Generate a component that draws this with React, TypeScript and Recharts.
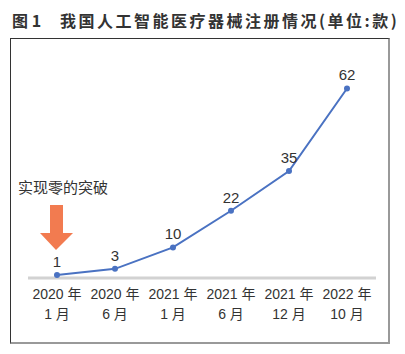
import { LineChart, Line, XAxis, YAxis, LabelList } from "recharts";

const periods = ["2020 年|1 月", "2020 年|6 月", "2021 年|1 月", "2021 年|6 月", "2021 年|12 月", "2022 年|10 月"];
const registrations = [1, 3, 10, 22, 35, 62];

const data = periods.map((p, i) => ({ period: p, count: registrations[i] }));

const FONT = "'Liberation Sans', 'Noto Sans CJK SC', sans-serif";
const CJK = "'Noto Sans CJK SC', sans-serif";
const LINE = "#4a72c2";
const TEXT = "#333";

const PeriodTick = ({ x, y, payload }: any) => {
  const [year, month] = String(payload.value).split("|");
  return (
    <text x={x} textAnchor="middle" fontSize={14} fill={TEXT} fontFamily={FONT}>
      <tspan x={x} y={y + 13}>{year}</tspan>
      <tspan x={x} y={y + 33}>{month}</tspan>
    </text>
  );
};

// value above each point; the first one also gets the orange arrow + note
const PointLabel = ({ x, y, value, index }: any) => (
  <g>
    {index === 0 && (
      <g>
        <text x={x - 39} y={y - 82} fontSize={15} fill={TEXT} fontFamily={CJK}>实现零的突破</text>
        <polygon
          points={`${x - 7},${y - 70} ${x + 6},${y - 70} ${x + 6},${y - 42} ${x + 16},${y - 42} ${x - 1},${y - 25} ${x - 17},${y - 42} ${x - 7},${y - 42}`}
          fill="#f27b50"
        />
      </g>
    )}
    <text x={x} y={y - 8} textAnchor="middle" fontSize={15} fill={TEXT} fontFamily={FONT}>{value}</text>
  </g>
);

export default function App() {
  return (
    <div style={{ position: "absolute", left: 0, top: 0, width: 405, height: 354, background: "#fff", fontFamily: CJK }}>
      <div style={{ position: "absolute", left: 12, top: 8, fontSize: 16, fontWeight: 700, color: TEXT, whiteSpace: "nowrap" }}>
        图 1
      </div>
      <div style={{ position: "absolute", left: 60, top: 8, fontSize: 16, fontWeight: 700, color: TEXT, whiteSpace: "nowrap", letterSpacing: 2.5 }}>
        我国人工智能医疗器械注册情况(单位:款)
      </div>
      <div
        style={{
          position: "absolute",
          left: 10,
          top: 38,
          width: 380,
          height: 306,
          boxSizing: "border-box",
          borderTop: "1px solid #333",
          borderLeft: "1.5px solid #333",
          borderRight: "2px solid #999",
          borderBottom: "2px solid #999",
        }}
      />
      <div style={{ position: "absolute", left: 0, top: 0 }}>
        <LineChart width={405} height={354} data={data} margin={{ top: 64, right: 29, left: 28, bottom: 16 }}>
          <XAxis
            dataKey="period"
            height={60}
            padding={{ left: 29, right: 29 }}
            axisLine={{ stroke: "#d2d2d2", strokeWidth: 3 }}
            tickLine={false}
            tick={<PeriodTick />}
            interval={0}
          />
          <YAxis hide domain={[0, 70]} />
          <Line
            type="linear"
            dataKey="count"
            stroke={LINE}
            strokeWidth={2}
            dot={{ r: 3, fill: LINE, stroke: LINE, strokeWidth: 0 }}
            isAnimationActive={false}
          >
            <LabelList dataKey="count" content={<PointLabel />} />
          </Line>
        </LineChart>
      </div>
    </div>
  );
}
